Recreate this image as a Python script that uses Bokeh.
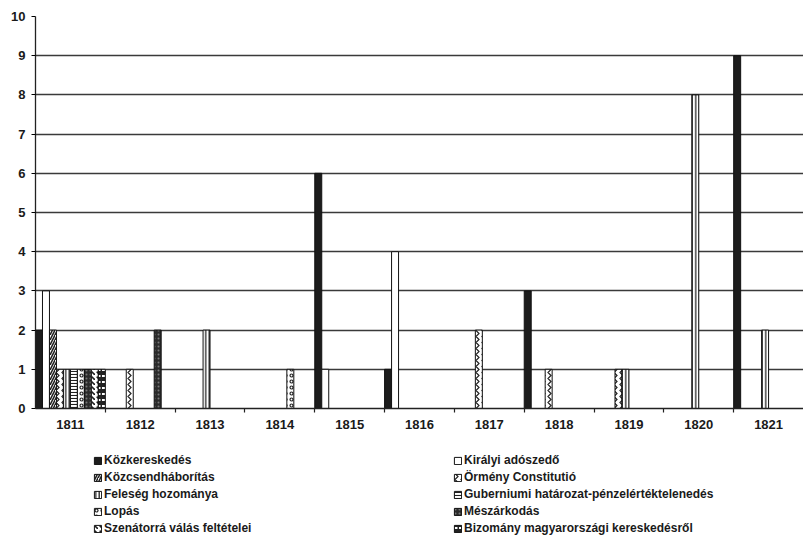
from bokeh.plotting import figure
from bokeh.layouts import column
from bokeh.models import (ColumnDataSource, Range1d, LinearAxis, FixedTicker, Legend, LegendItem)
from bokeh.transform import dodge
from bokeh.embed import file_html
from bokeh.resources import INLINE

years = ["1811", "1812", "1813", "1814", "1815", "1816", "1817", "1818", "1819", "1820", "1821"]
y_ticks = [0, 1, 2, 3, 4, 5, 6, 7, 8, 9, 10]

series_names = [
    "Közkereskedés",
    "Királyi adószedő",
    "Közcsendháborítás",
    "Örmény Constitutió",
    "Feleség hozománya",
    "Guberniumi határozat-pénzelértéktelenedés",
    "Lopás",
    "Mészárkodás",
    "Szenátorrá válás feltételei",
    "Bizomány magyarországi kereskedésről",
]

kozkereskedes = [2, 0, 0, 0, 6, 1, 0, 3, 0, 0, 9]
kiralyi_adoszedo = [3, 0, 0, 0, 1, 4, 0, 0, 0, 0, 0]
kozcsendhaboritas = [2, 0, 0, 0, 0, 0, 0, 0, 0, 0, 0]
ormeny_constitutio = [1, 1, 0, 0, 0, 0, 2, 1, 1, 0, 0]
feleseg_hozomanya = [1, 0, 2, 0, 0, 0, 0, 0, 1, 8, 2]
guberniumi = [1, 0, 0, 0, 0, 0, 0, 0, 0, 0, 0]
lopas = [1, 0, 0, 1, 0, 0, 0, 0, 0, 0, 0]
meszarkodas = [1, 2, 0, 0, 0, 0, 0, 0, 0, 0, 0]
szenatorra = [1, 0, 0, 0, 0, 0, 0, 0, 0, 0, 0]
bizomany = [1, 0, 0, 0, 0, 0, 0, 0, 0, 0, 0]

series_values = [kozkereskedes, kiralyi_adoszedo, kozcsendhaboritas, ormeny_constitutio,
                 feleseg_hozomanya, guberniumi, lopas, meszarkodas, szenatorra, bizomany]

styles = [
    dict(fill_color="#1c1c1c"),
    dict(fill_color="white"),
    dict(fill_color="white", hatch_pattern="/", hatch_color="#222222", hatch_scale=5, hatch_weight=1.6),
    dict(fill_color="white", hatch_pattern=">", hatch_color="#222222", hatch_scale=6, hatch_weight=1.2),
    dict(fill_color="white", hatch_pattern="|", hatch_color="#222222", hatch_scale=3.5, hatch_weight=1.3),
    dict(fill_color="white", hatch_pattern="-", hatch_color="#222222", hatch_scale=3, hatch_weight=1.1),
    dict(fill_color="white", hatch_pattern="o", hatch_color="#222222", hatch_scale=6, hatch_weight=1.2),
    dict(fill_color="#2a2a2a", hatch_pattern=".", hatch_color="#777777", hatch_scale=4, hatch_weight=1),
    dict(fill_color="white", hatch_pattern="`", hatch_color="#222222", hatch_scale=5, hatch_weight=1.6),
    dict(fill_color="#222222", hatch_pattern='"', hatch_color="white", hatch_scale=6, hatch_weight=2),
]

FONT = "Liberation Sans"
n_years = len(years)

p = figure(x_range=Range1d(0, n_years), y_range=Range1d(0, 10),
           width=803, height=445, output_backend="svg", toolbar_location=None,
           x_axis_location=None, min_border_left=35, min_border_right=0,
           min_border_top=16, min_border_bottom=37)
p.outline_line_color = None
p.background_fill_color = "white"
p.border_fill_color = "white"

p.xgrid.grid_line_color = None
p.ygrid.grid_line_color = "#3a3a3a"
p.ygrid.grid_line_width = 1.3
p.ygrid.ticker = FixedTicker(ticks=y_ticks)

p.yaxis.ticker = FixedTicker(ticks=y_ticks)
p.yaxis.major_label_text_font = FONT
p.yaxis.major_label_text_font_style = "bold"
p.yaxis.major_label_text_font_size = "13px"
p.yaxis.major_label_text_color = "#1a1a1a"
p.yaxis.axis_line_color = "#222222"
p.yaxis.axis_line_width = 1.3
p.yaxis.major_tick_in = 0
p.yaxis.major_tick_out = 4
p.yaxis.minor_tick_line_color = None
p.yaxis.major_label_standoff = 6

# year labels at slot centres, small tick marks between the slots
centers = [i + 0.5 for i in range(n_years)]
boundaries = list(range(1, n_years))
x_axis = LinearAxis(ticker=FixedTicker(ticks=centers, minor_ticks=boundaries),
                    major_label_overrides={c: y for c, y in zip(centers, years)},
                    axis_line_color="#222222", axis_line_width=1.3,
                    major_tick_line_color=None,
                    minor_tick_line_color="#222222", minor_tick_line_width=1.2,
                    minor_tick_in=0, minor_tick_out=4,
                    major_label_text_font=FONT, major_label_text_font_style="bold",
                    major_label_text_font_size="13px", major_label_text_color="#1a1a1a",
                    major_label_standoff=5)
p.add_layout(x_axis, "below")

# legend panel (separate figure under the chart; its ranges show none of the bars)
lg = figure(width=803, height=107, x_range=Range1d(100, 101), y_range=Range1d(100, 101),
            output_backend="svg", toolbar_location=None,
            x_axis_location=None, y_axis_location=None, min_border=0)
lg.grid.visible = False
lg.outline_line_color = None
lg.background_fill_color = "white"
lg.border_fill_color = "white"

n = len(series_names)
bw = 1.0 / n
legend_renderers = []
for i, (name, vals, st) in enumerate(zip(series_names, series_values, styles)):
    xs = [k + 0.5 for k, v in enumerate(vals) if v > 0]
    vs = [v for v in vals if v > 0]
    src = ColumnDataSource(dict(slot=xs, value=vs))
    off = -0.5 + bw * (i + 0.5)
    p.vbar(x=dodge("slot", off), top="value", bottom=0, width=bw,
           source=src, line_color="#111111", line_width=1, **st)
    r = lg.vbar(x=dodge("slot", off), top="value", bottom=0, width=bw,
                source=src, line_color="#111111", line_width=1, **st)
    legend_renderers.append(r)

order = [0, 2, 4, 6, 8, 1, 3, 5, 7, 9]
items = [LegendItem(label=series_names[k], renderers=[legend_renderers[k]]) for k in order]
legend = Legend(items=items, orientation="vertical", nrows=5, location=(58, 17),
                glyph_width=9, glyph_height=9, label_standoff=2, spacing=3,
                label_width=346, padding=0, margin=0,
                border_line_color=None, background_fill_alpha=0,
                label_text_font=FONT, label_text_font_style="bold",
                label_text_font_size="12px", label_text_color="#1a1a1a")
lg.add_layout(legend)

layout = column(p, lg, spacing=0)
open("out.html", "w").write(file_html(layout, INLINE))
